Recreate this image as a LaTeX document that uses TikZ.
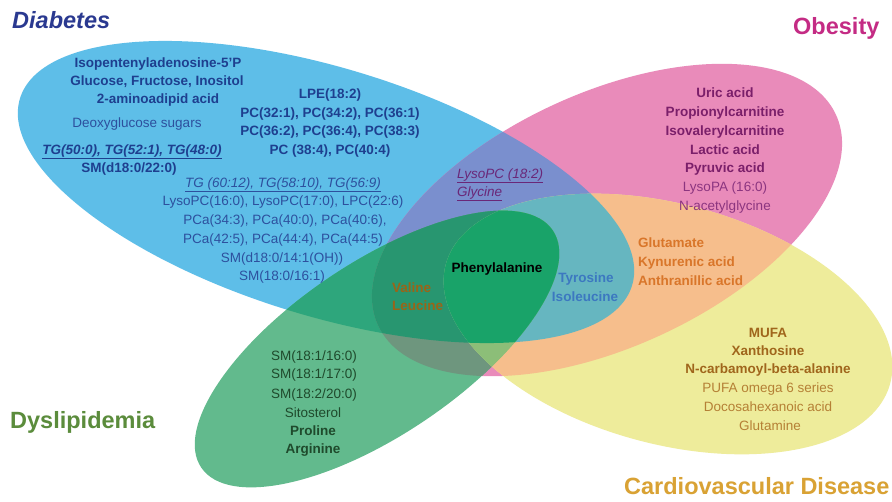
\documentclass[tikz,border=0pt]{standalone}
\usepackage{fontspec}
\setmainfont{Liberation Sans}
\definecolor{cB}{HTML}{5EBEE8}
\definecolor{cP}{HTML}{E98BBA}
\definecolor{cG}{HTML}{62BA8D}
\definecolor{cY}{HTML}{EEEC9B}
\definecolor{cBP}{HTML}{7A8FCE}
\definecolor{cBG}{HTML}{2EA67C}
\definecolor{cBY}{HTML}{6CC3C6}
\definecolor{cPG}{HTML}{6E967E}
\definecolor{cPY}{HTML}{F6BE8C}
\definecolor{cGY}{HTML}{96C882}
\definecolor{cBPG}{HTML}{289670}
\definecolor{cBPY}{HTML}{66B6C0}
\definecolor{cBGY}{HTML}{22A070}
\definecolor{cPGY}{HTML}{8CBE78}
\definecolor{cBPGY}{HTML}{19A369}
\definecolor{tDia}{HTML}{2A3990}
\definecolor{tBb}{HTML}{1E3F8F}
\definecolor{tBr}{HTML}{2D509E}
\definecolor{tObe}{HTML}{C42B84}
\definecolor{tPb}{HTML}{7B1F6A}
\definecolor{tPr}{HTML}{8C3580}
\definecolor{tPu}{HTML}{6A2778}
\definecolor{tVal}{HTML}{9A6418}
\definecolor{tTyr}{HTML}{3C78C0}
\definecolor{tGlu}{HTML}{D9762A}
\definecolor{tYb}{HTML}{A0661C}
\definecolor{tYr}{HTML}{B58035}
\definecolor{tGr}{HTML}{1F4A2C}
\definecolor{tDys}{HTML}{5B8C3C}
\definecolor{tCvd}{HTML}{D9A234}
\tikzset{
  elB/.style={shift={(326,-192)},rotate=-17},
  elP/.style={shift={(607,-220)},rotate=24.7},
  elG/.style={shift={(377,-349)},rotate=34},
  elY/.style={shift={(668,-324)},rotate=-15},
  tx/.style={font=\fontsize{13.5}{16}\selectfont, inner sep=0pt, anchor=base},
  txl/.style={tx, anchor=base west},
  ttl/.style={font=\fontsize{23.5}{28}\selectfont\bfseries, inner sep=0pt, anchor=base west},
}
\newcommand\fillB[1]{\fill[#1,elB] (0,0) ellipse [x radius=320pt,y radius=124pt];}
\newcommand\fillP[1]{\fill[#1,elP] (0,0) ellipse [x radius=252pt,y radius=127pt];}
\newcommand\fillG[1]{\fill[#1,elG] (0,0) ellipse [x radius=212pt,y radius=86pt];}
\newcommand\fillY[1]{\fill[#1,elY] (0,0) ellipse [x radius=230pt,y radius=120pt];}
\newcommand\clipB{\clip[elB] (0,0) ellipse [x radius=320pt,y radius=124pt];}
\newcommand\clipP{\clip[elP] (0,0) ellipse [x radius=252pt,y radius=127pt];}
\newcommand\clipG{\clip[elG] (0,0) ellipse [x radius=212pt,y radius=86pt];}
\newcommand\clipY{\clip[elY] (0,0) ellipse [x radius=230pt,y radius=120pt];}
\begin{document}
\begin{tikzpicture}[x=1pt,y=1pt]
\fill[white] (0,0) rectangle (892,-501);
\useasboundingbox (0,0) rectangle (892,-501);
% single sets
\fillB{cB}
\fillP{cP}
\fillY{cY}
\fillG{cG}
% pairs
\begin{scope}\clipB \fillP{cBP}\end{scope}
\begin{scope}\clipB \fillG{cBG}\end{scope}
\begin{scope}\clipB \fillY{cBY}\end{scope}
\begin{scope}\clipP \fillG{cPG}\end{scope}
\begin{scope}\clipP \fillY{cPY}\end{scope}
\begin{scope}\clipG \fillY{cGY}\end{scope}
% triples
\begin{scope}\clipB\clipP \fillG{cBPG}\end{scope}
\begin{scope}\clipB\clipP \fillY{cBPY}\end{scope}
\begin{scope}\clipB\clipG \fillY{cBGY}\end{scope}
\begin{scope}\clipP\clipG \fillY{cPGY}\end{scope}
% all four
\begin{scope}\clipB\clipP\clipG \fillY{cBPGY}\end{scope}

% titles
\node[ttl, tDia] (tdia) at (12,-28) {\itshape Diabetes};
\node[ttl, tObe] (tobe) at (793,-34) {Obesity};
\node[ttl, tDys] (tdys) at (10,-428) {Dyslipidemia};
\node[ttl, tCvd] (tcvd) at (624,-494) {Cardiovascular Disease};

% Diabetes only
\node[tx, tBb] (b1) at (158,-67) {\bfseries Isopentenyladenosine-5'P};
\node[tx, tBb] (b2) at (157,-85) {\bfseries Glucose, Fructose, Inositol};
\node[tx, tBb] (b3) at (158,-103) {\bfseries 2-aminoadipid acid};
\node[tx, tBr] (b4) at (137,-127) {Deoxyglucose sugars};
\node[tx, tBb] (b5) at (132,-154) {\bfseries\itshape\underline{TG(50:0), TG(52:1), TG(48:0)}};
\node[tx, tBb] (b6) at (129,-172) {\bfseries SM(d18:0/22:0)};
\node[tx, tBb] (b7) at (330,-98) {\bfseries LPE(18:2)};
\node[tx, tBb] (b8) at (330,-117) {\bfseries PC(32:1), PC(34:2), PC(36:1)};
\node[tx, tBb] (b9) at (330,-135) {\bfseries PC(36:2), PC(36:4), PC(38:3)};
\node[tx, tBb] (b10) at (330,-154) {\bfseries PC (38:4), PC(40:4)};
\node[tx, tBr] (b11) at (283,-187) {\itshape\underline{TG (60:12), TG(58:10), TG(56:9)}};
\node[tx, tBr] (b12) at (283,-205) {LysoPC(16:0), LysoPC(17:0), LPC(22:6)};
\node[tx, tBr] (b13) at (285,-224) {PCa(34:3), PCa(40:0), PCa(40:6),};
\node[tx, tBr] (b14) at (283,-243) {PCa(42:5), PCa(44:4), PCa(44:5)};
\node[tx, tBr] (b15) at (282,-262) {SM(d18:0/14:1(OH))};
\node[tx, tBr] (b16) at (282,-280) {SM(18:0/16:1)};

% Obesity only
\node[tx, tPb] (p1) at (725,-97) {\bfseries Uric acid};
\node[tx, tPb] (p2) at (725,-116) {\bfseries Propionylcarnitine};
\node[tx, tPb] (p3) at (725,-135) {\bfseries Isovalerylcarnitine};
\node[tx, tPb] (p4) at (725,-154) {\bfseries Lactic acid};
\node[tx, tPb] (p5) at (725,-172) {\bfseries Pyruvic acid};
\node[tx, tPr] (p6) at (725,-191) {LysoPA (16:0)};
\node[tx, tPr] (p7) at (725,-210) {N-acetylglycine};

% Diabetes + Obesity
\node[txl, tPu] (bp1) at (457,-178) {\itshape\underline{LysoPC (18:2)}};
\node[txl, tPu] (bp2) at (457,-196) {\itshape\underline{Glycine}};

% centre
\node[tx, black] (all1) at (497,-272) {\bfseries Phenylalanine};
\node[txl, tVal] (v1) at (392,-292) {\bfseries Valine};
\node[txl, tVal] (v2) at (392,-310) {\bfseries Leucine};
\node[tx, tTyr] (ty1) at (586,-282) {\bfseries Tyrosine};
\node[tx, tTyr] (ty2) at (585,-301) {\bfseries Isoleucine};
\node[txl, tGlu] (g1) at (638,-247) {\bfseries Glutamate};
\node[txl, tGlu] (g2) at (638,-266) {\bfseries Kynurenic acid};
\node[txl, tGlu] (g3) at (638,-285) {\bfseries Anthranillic acid};

% Cardiovascular only
\node[tx, tYb] (y1) at (768,-337) {\bfseries MUFA};
\node[tx, tYb] (y2) at (768,-355) {\bfseries Xanthosine};
\node[tx, tYb] (y3) at (768,-373) {\bfseries N-carbamoyl-beta-alanine};
\node[tx, tYr] (y4) at (768,-392) {PUFA omega 6 series};
\node[tx, tYr] (y5) at (768,-411) {Docosahexanoic acid};
\node[tx, tYr] (y6) at (770,-430) {Glutamine};

% Dyslipidemia only
\node[tx, tGr] (d1) at (314,-360) {SM(18:1/16:0)};
\node[tx, tGr] (d2) at (314,-378) {SM(18:1/17:0)};
\node[tx, tGr] (d3) at (314,-398) {SM(18:2/20:0)};
\node[tx, tGr] (d4) at (313,-417) {Sitosterol};
\node[tx, tGr] (d5) at (313,-435) {\bfseries Proline};
\node[tx, tGr] (d6) at (313,-453) {\bfseries Arginine};
\end{tikzpicture}
\end{document}
